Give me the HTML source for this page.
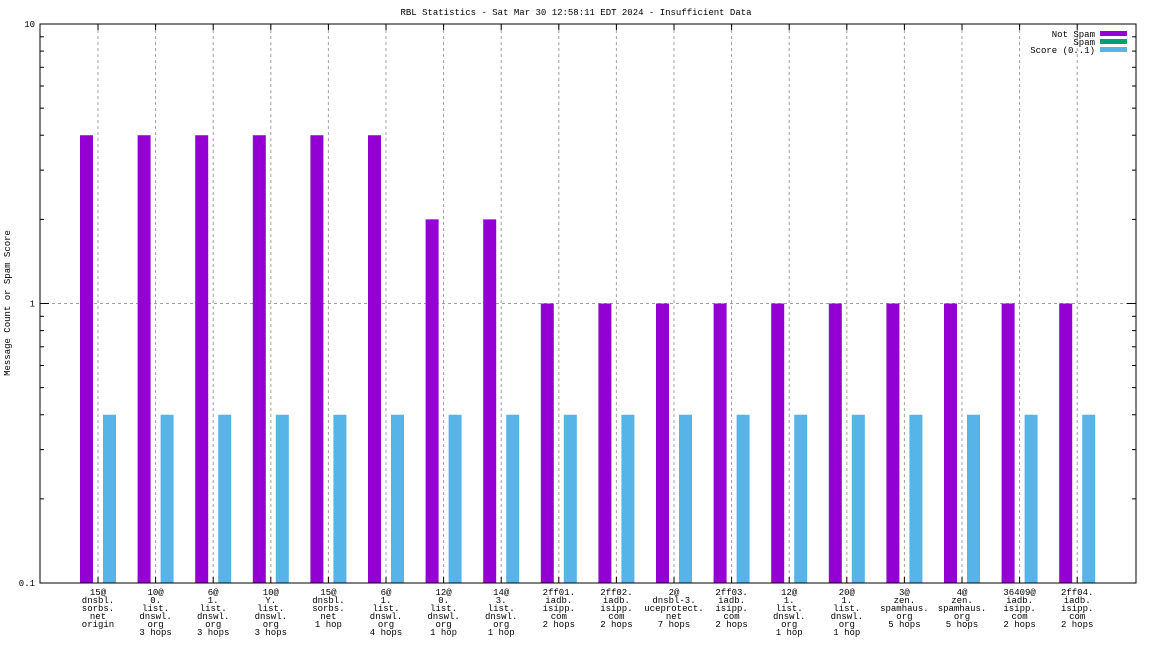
<!DOCTYPE html>
<html><head><meta charset="utf-8"><style>
html,body{margin:0;padding:0;background:#fff}
svg{display:block}
text{font-family:"Liberation Mono","DejaVu Sans Mono",monospace;font-size:9px;fill:#000}
</style></head><body>
<svg id="chart" width="1152" height="648" viewBox="0 0 1152 648">
<text x="576" y="15" text-anchor="middle">RBL Statistics - Sat Mar 30 12:58:11 EDT 2024 - Insufficient Data</text>
<text transform="translate(10,303) rotate(-90)" text-anchor="middle">Message Count or Spam Score</text>
<g id="grid"></g><g id="bars"></g><g id="axes"></g><g id="labels"></g>
<g>
<text x="1095" y="37" text-anchor="end">Not Spam</text>
<rect x="1100" y="31" width="27" height="5" fill="#9400d3"/>
<text x="1095" y="45" text-anchor="end">Spam</text>
<rect x="1100" y="39" width="27" height="5" fill="#009e73"/>
<text x="1095" y="53" text-anchor="end">Score (0..1)</text>
<rect x="1100" y="47" width="27" height="5" fill="#56b4e9"/>
</g>
</svg>
<script>
const categories = [
 ["15@","dnsbl.","sorbs.","net","origin"],
 ["10@","0.","list.","dnswl.","org","3 hops"],
 ["6@","1.","list.","dnswl.","org","3 hops"],
 ["10@","Y.","list.","dnswl.","org","3 hops"],
 ["15@","dnsbl.","sorbs.","net","1 hop"],
 ["6@","1.","list.","dnswl.","org","4 hops"],
 ["12@","0.","list.","dnswl.","org","1 hop"],
 ["14@","3.","list.","dnswl.","org","1 hop"],
 ["2ff01.","iadb.","isipp.","com","2 hops"],
 ["2ff02.","iadb.","isipp.","com","2 hops"],
 ["2@","dnsbl-3.","uceprotect.","net","7 hops"],
 ["2ff03.","iadb.","isipp.","com","2 hops"],
 ["12@","1.","list.","dnswl.","org","1 hop"],
 ["20@","1.","list.","dnswl.","org","1 hop"],
 ["3@","zen.","spamhaus.","org","5 hops"],
 ["4@","zen.","spamhaus.","org","5 hops"],
 ["36409@","iadb.","isipp.","com","2 hops"],
 ["2ff04.","iadb.","isipp.","com","2 hops"]
];
const notSpam = [4,4,4,4,4,4,2,2,1,1,1,1,1,1,1,1,1,1];
const spam = [0,0,0,0,0,0,0,0,0,0,0,0,0,0,0,0,0,0];
const score = [0.4,0.4,0.4,0.4,0.4,0.4,0.4,0.4,0.4,0.4,0.4,0.4,0.4,0.4,0.4,0.4,0.4,0.4];
const yTickValues = [0.1,1,10];
const yTickLabels = ["0.1","1","10"];

const NS="http://www.w3.org/2000/svg";
const L=40,R=1136,T=24,B=583;
const yMin=0.1,yMax=10;
function y(v){return B-(Math.log10(v)-Math.log10(yMin))/(Math.log10(yMax)-Math.log10(yMin))*(B-T);}
const step=57.6, x0=98;
function x(i){return x0+i*step;}
function mk(tag,attrs,parent){const e=document.createElementNS(NS,tag);for(const k in attrs)e.setAttribute(k,attrs[k]);parent.appendChild(e);return e;}
const grid=document.getElementById('grid'),bars=document.getElementById('bars'),axes=document.getElementById('axes'),labels=document.getElementById('labels');

categories.forEach((c,i)=>{
 const g=mk('line',{x1:x(i),x2:x(i),y1:T,y2:B,stroke:'#a0a0a0','stroke-dasharray':'3,3','stroke-width':1},grid);
 
 
 const t1=mk('line',{x1:x(i),x2:x(i),y1:T,y2:T+6,stroke:'#000'},axes);
 
 
 const t2=mk('line',{x1:x(i),x2:x(i),y1:B,y2:B-6,stroke:'#000'},axes);
 
 
 const tx=mk('text',{x:x(i),'text-anchor':'middle'},labels);
 
 
 c.forEach((ln,k)=>{const ts=mk('tspan',{x:x(i),y:595+k*8},tx);ts.textContent=ln;});
 if(notSpam[i]>0){const b=mk('rect',{x:x(i)-18,y:y(notSpam[i]),width:13,height:B-y(notSpam[i]),fill:'#9400d3'},bars);
  
  }
 if(spam[i]>0){const b=mk('rect',{x:x(i)-6.5,y:y(spam[i]),width:13,height:B-y(spam[i]),fill:'#009e73'},bars);
  
  }
 if(score[i]>0){const b=mk('rect',{x:x(i)+5,y:y(score[i]),width:13,height:B-y(score[i]),fill:'#56b4e9'},bars);
  
  }
});
yTickValues.forEach((v,j)=>{
 const yy=y(v);
 if(v>yMin&&v<yMax){const g=mk('line',{x1:L,x2:R,y1:yy,y2:yy,stroke:'#a0a0a0','stroke-dasharray':'3,3'},grid);
  
  }
 const t=mk('text',{x:L-5,y:yy+3,'text-anchor':'end'},labels);
 
 
 t.textContent=yTickLabels[j];
 [[L,L+9],[R,R-9]].forEach(p=>{const m=mk('line',{x1:p[0],x2:p[1],y1:yy,y2:yy,stroke:'#000'},axes);
  
  });
 if(v<yMax){for(let k=2;k<=9;k++){const yy2=y(v*k);
  [[L,L+4],[R,R-4]].forEach(p=>{const m=mk('line',{x1:p[0],x2:p[1],y1:yy2,y2:yy2,stroke:'#000'},axes);
   
   });}}
});
const fr=mk('rect',{x:L,y:T,width:R-L,height:B-T,fill:'none',stroke:'#000','stroke-width':1},axes);


</script>
</body></html>
